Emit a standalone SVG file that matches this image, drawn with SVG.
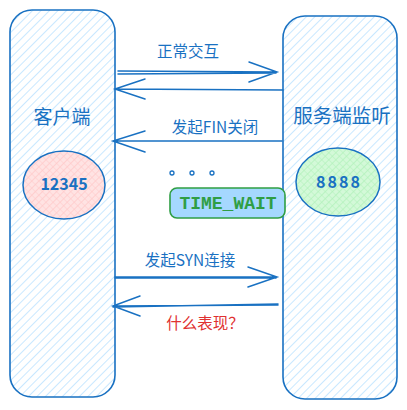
<svg xmlns="http://www.w3.org/2000/svg" width="407" height="410" viewBox="0 0 407 410">
<defs>
<pattern id="hatch" patternUnits="userSpaceOnUse" width="6" height="6" patternTransform="rotate(45)">
<line x1="0" y1="0" x2="0" y2="6" stroke="#a5d8ff" stroke-width="1.2"/>
</pattern>
<pattern id="hatchPink" patternUnits="userSpaceOnUse" width="5" height="5" patternTransform="rotate(45)">
<rect width="5" height="5" fill="#ffe3e3"/>
<line x1="0" y1="0" x2="0" y2="5" stroke="#ffc9c9" stroke-width="1.5"/>
<line x1="0" y1="0" x2="5" y2="0" stroke="#ffc9c9" stroke-width="1"/>
</pattern>
<pattern id="hatchGreen" patternUnits="userSpaceOnUse" width="5" height="5" patternTransform="rotate(45)">
<rect width="5" height="5" fill="#d3f9d8"/>
<line x1="0" y1="0" x2="0" y2="5" stroke="#b2f2bb" stroke-width="1.5"/>
<line x1="0" y1="0" x2="5" y2="0" stroke="#b2f2bb" stroke-width="1"/>
</pattern>
</defs>
<style>
.col{fill:url(#hatch);stroke:#1971c2;stroke-width:1.6}
.lbl{font-family:"Noto Sans CJK SC","Liberation Sans",sans-serif;fill:#1971c2;text-anchor:middle}
.conn{stroke:#1971c2;stroke-width:1.5;fill:none;stroke-linecap:round}
.dot{fill:none;stroke:#1971c2;stroke-width:1.3}
</style>
<rect width="407" height="410" fill="#ffffff"/>
<g id="client">
<rect class="col" x="10" y="10" width="105" height="387" rx="22"/>
<text class="lbl" x="62" y="124" font-size="19">客户端</text>
</g>
<g id="server">
<rect class="col" x="283" y="16" width="114" height="383" rx="22"/>
<text class="lbl" x="342" y="123" font-size="19.5">服务端监听</text>
</g>
<g id="port-client">
<ellipse cx="64" cy="185" rx="41" ry="34" fill="url(#hatchPink)" stroke="#1971c2" stroke-width="1.5"/>
<text class="lbl" x="64" y="190" font-size="16" font-weight="bold">12345</text>
</g>
<g id="port-server">
<ellipse cx="338" cy="182" rx="42" ry="34" fill="url(#hatchGreen)" stroke="#1971c2" stroke-width="1.5"/>
<text class="lbl" x="339" y="188" font-size="16" font-weight="bold" letter-spacing="2">8888</text>
</g>
<g id="time-wait">
<rect x="170" y="188" width="115" height="30" rx="7" fill="#a5d8ff" stroke="#2f9e44" stroke-width="1.6"/>
<text x="228" y="209" font-family="Liberation Mono, monospace" font-size="18" font-weight="bold" fill="#2f9e44" text-anchor="middle">TIME_WAIT</text>
</g>
<g id="connectors">
<path class="conn" d="M118 71 L277 72 M118 74 L276 73 M249 62 L277 72 L249 82"/>
<path class="conn" d="M283 90 L115 89 M145 79 L115 89 L145 99"/>
<path class="conn" d="M282 141 L113 141 M145 131 L113 141 L145 152"/>
<path class="conn" d="M115 277 L277 277 M115 278 L276 278 M248 267 L277 277 L248 287"/>
<path class="conn" d="M278 305 L113 306 M113 307 L278 304 M140 296 L113 306 L140 316"/>
<circle class="dot" cx="172" cy="173" r="2"/>
<circle class="dot" cx="192" cy="173" r="2"/>
<circle class="dot" cx="212" cy="173" r="2"/>
</g>
<g id="labels">
<text class="lbl" x="188" y="57" font-size="15.5">正常交互</text>
<text class="lbl" x="215" y="133" font-size="15.5">发起FIN关闭</text>
<text class="lbl" x="190" y="266" font-size="15.5">发起SYN连接</text>
<text class="lbl" x="205" y="329" font-size="15.5" style="fill:#e03131">什么表现？</text>
</g>
</svg>
